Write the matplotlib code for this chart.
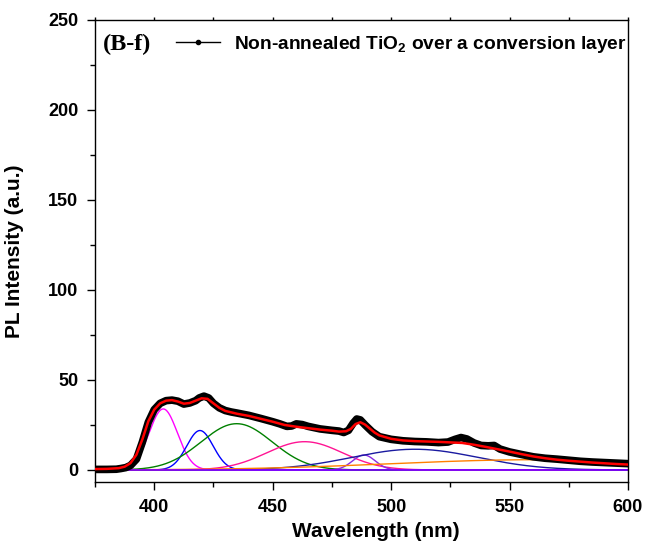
import numpy as np
import matplotlib
matplotlib.use("Agg")
import matplotlib.pyplot as plt
from matplotlib.lines import Line2D
from matplotlib.ticker import MultipleLocator

plt.rcParams['font.family'] = ['Liberation Sans', 'DejaVu Sans']
plt.rcParams['font.weight'] = 'bold'
plt.rcParams['mathtext.fontset'] = 'custom'
plt.rcParams['mathtext.rm'] = 'Liberation Sans:bold'
plt.rcParams['mathtext.default'] = 'rm'

data_wl = [375, 380, 384, 386, 388, 390, 392.5, 395, 397.5, 400, 402.5, 405, 407.5,
           410, 412.5, 415, 417.5, 419, 421, 423, 425, 427.5, 430, 432.5, 435, 440,
           445, 450, 453, 456, 458, 460, 462.5, 465, 470, 475, 478, 480, 482, 484,
           485.5, 487, 489, 492, 495, 500, 505, 510, 515, 520, 524, 527, 529.5, 532,
           535, 538, 541, 543.5, 546, 550, 555, 560, 565, 570, 575, 580, 585, 590,
           595, 600]
data_pl = [0.3, 0.3, 0.4, 0.8, 1.3, 2.5, 6.0, 15.5, 26.5, 33.5, 37.0, 38.5, 38.8,
           38.2, 36.6, 37.2, 38.5, 40.0, 41.0, 40.0, 37.0, 34.5, 33.0, 32.2, 31.6, 30.3,
           28.6, 26.8, 25.6, 24.2, 24.4, 25.6, 25.2, 24.2, 22.8, 22.0, 21.6, 20.8, 22.0, 26.0,
           28.3, 27.8, 25.0, 21.2, 18.5, 17.0, 16.2, 15.8, 15.6, 15.2, 15.5, 17.0, 18.0, 17.2,
           15.0, 13.6, 13.4, 13.6, 11.6, 10.0, 8.6, 7.3, 6.5, 6.0, 5.4, 4.8, 4.4, 4.1,
           3.8, 3.5]

# ---- cumulative fit (red) ----
fit_wl = [375, 380, 385, 387.5, 390, 392.5, 395, 397.5, 400, 402.5, 405, 407.5, 410,
          412.5, 415, 417.5, 420, 422.5, 425, 427.5, 430, 435, 440, 445, 450, 455, 460,
          465, 470, 475, 478, 481, 483, 485, 487, 489, 491, 493, 495, 500, 505, 510,
          515, 520, 525, 530, 535, 540, 545, 550, 555, 560, 565, 570, 575, 580, 585,
          590, 595, 600]
fit_pl = [0.5, 0.6, 1.0, 1.8, 3.8, 8.5, 17.0, 27.0, 33.5, 37.0, 38.5, 38.8, 38.0,
          36.8, 37.2, 38.5, 39.8, 39.5, 37.0, 34.5, 32.8, 31.2, 30.0, 28.4, 26.8, 25.0, 24.0,
          23.2, 22.4, 21.8, 21.3, 21.5, 22.8, 25.5, 26.5, 25.2, 23.0, 20.8, 19.2, 17.3, 16.4, 16.0,
          15.8, 15.6, 15.3, 15.0, 14.0, 12.8, 11.5, 10.2, 8.8, 7.5, 6.5, 5.7, 5.1, 4.6, 4.1,
          3.7, 3.3, 3.0]

# ---- Gaussian fit components: center (nm), height, sigma (nm) ----
comp_center = [403.8, 419.3, 434.8, 463.5, 488.5, 510.0, 562.0]
comp_height = [33.9, 21.9, 25.7, 15.7, 8.3, 11.5, 5.7]
comp_sigma = [6.0, 5.6, 15.0, 16.0, 4.8, 26.6, 62.0]
comp_color = ['#FF00FF', '#0000FF', '#008000', '#FF1493', '#8A2BE2', '#1A1AA0', '#FF8000']

legend_label = 'Non-annealed TiO$_2$ over a conversion layer'
panel_label = '(B-f)'

W, H = 657, 549
fig = plt.figure(figsize=(W / 100, H / 100), dpi=100)
ax = fig.add_axes([95 / W, (H - 482) / H, 533 / W, 462 / H])

wl = np.linspace(375, 600, 1201)
for c, h, s, col in zip(comp_center, comp_height, comp_sigma, comp_color):
    ax.plot(wl, h * np.exp(-0.5 * ((wl - c) / s) ** 2), color=col, lw=1.0, zorder=2)
ax.plot(wl, np.zeros_like(wl), color='#8000FF', lw=1.2, zorder=2.5)

ax.plot(data_wl, data_pl, color='black', lw=5.5, solid_capstyle='round',
        solid_joinstyle='round', zorder=3)
ax.plot(fit_wl, fit_pl, color='#FF0000', lw=1.8, zorder=4)

ax.set_xlim(375, 600)
ax.set_ylim(-6.7, 250)
ax.xaxis.set_major_locator(MultipleLocator(50))
ax.xaxis.set_minor_locator(MultipleLocator(25))
ax.yaxis.set_major_locator(MultipleLocator(50))
ax.yaxis.set_minor_locator(MultipleLocator(25))

for sp in ax.spines.values():
    sp.set_linewidth(1.0)

ax.tick_params(axis='both', which='major', direction='out', length=6, width=1.0,
               labelsize=13, pad=6)
ax.tick_params(axis='both', which='minor', direction='out', length=3.5, width=1.0)
ax.tick_params(axis='x', which='both', top=True)
for t in ax.xaxis.get_ticklines(minor=False)[1::2]:
    t.set_markersize(2)
for t in ax.xaxis.get_ticklines(minor=True)[1::2]:
    t.set_markersize(2)
for lab in ax.get_xticklabels() + ax.get_yticklabels():
    lab.set_fontweight('bold')

ax.set_xlabel('Wavelength (nm)', fontsize=15, fontweight='bold')
ax.xaxis.set_label_coords(0.526, -0.087)
ax.set_ylabel('PL Intensity (a.u.)', fontsize=15, fontweight='bold')
ax.yaxis.set_label_coords(-0.133, 0.5)

ax.text(0.014, 0.948, panel_label, transform=ax.transAxes, fontsize=17.5,
        fontweight='bold', family=['Liberation Serif', 'DejaVu Serif'],
        va='center', ha='left')

handle = Line2D([], [], color='black', lw=1.0, marker='o', markersize=3)
ax.legend([handle], [legend_label], loc='center left', bbox_to_anchor=(0.152, 0.948),
          frameon=False, borderpad=0, borderaxespad=0, handlelength=2.3,
          handletextpad=0.75, prop={'size': 13.8, 'weight': 'bold'})

fig.savefig('out.png', dpi=100)
